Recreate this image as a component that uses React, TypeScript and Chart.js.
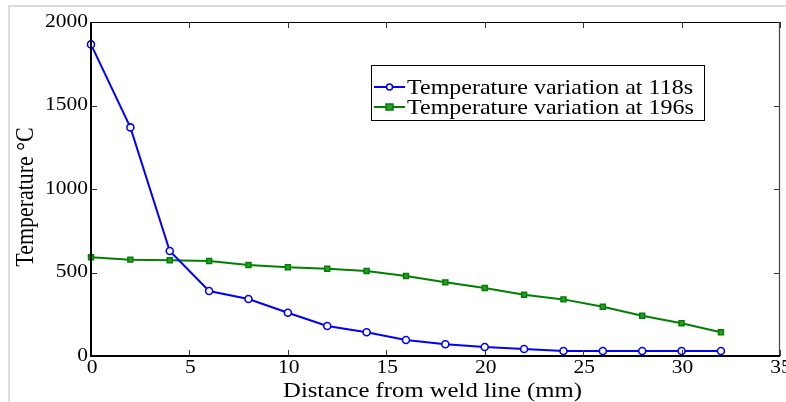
import React, { useEffect, useRef } from 'react';
import { Chart, registerables } from 'chart.js';

Chart.register(...registerables);

const distances = [0, 2, 4, 6, 8, 10, 12, 14, 16, 18, 20, 22, 24, 26, 28, 30, 32];
const temp118 = [1866, 1369, 629, 389, 341, 259, 180, 142, 96, 70, 54, 42, 30, 30, 30, 30, 30];
const temp196 = [591, 577, 573, 569, 545, 531, 523, 509, 479, 441, 407, 367, 339, 295, 241, 196, 142];
const xTicks = [0, 5, 10, 15, 20, 25, 30, 35];
const yTicks = [0, 500, 1000, 1500, 2000];
const seriesLabels = ['Temperature variation at 118s', 'Temperature variation at 196s'];
const xTitle = 'Distance from weld line (mm)';
const yTitle = 'Temperature \u00B0C';

const SERIF = '"Liberation Serif", "Times New Roman", serif';

// text drawn slightly squashed vertically, like the reference raster
function drawText(
  ctx: CanvasRenderingContext2D,
  text: string,
  x: number,
  y: number,
  size: number,
  sy: number,
  align: CanvasTextAlign,
  rotate = 0
) {
  ctx.save();
  ctx.translate(x, y);
  ctx.scale(1, sy);
  if (rotate) ctx.rotate(rotate);
  ctx.font = `${size}px ${SERIF}`;
  ctx.fillStyle = '#000';
  ctx.textAlign = align;
  ctx.textBaseline = 'middle';
  ctx.fillText(text, 0, 0);
  ctx.restore();
}

const framePlugin = {
  id: 'matlabFrame',
  afterDraw(chart: any) {
    const { ctx, chartArea: a, scales } = chart;
    const x = scales.x;
    const y = scales.y;
    ctx.save();
    const line = (x1: number, y1: number, x2: number, y2: number) => {
      ctx.beginPath();
      ctx.moveTo(x1, y1);
      ctx.lineTo(x2, y2);
      ctx.stroke();
    };
    // inward ticks on all four sides
    ctx.strokeStyle = '#333';
    ctx.lineWidth = 1;
    const tl = 6;
    xTicks.forEach((v) => {
      const px = Math.round(x.getPixelForValue(v)) + 0.5;
      line(px, a.bottom, px, a.bottom - tl);
      line(px, a.top, px, a.top + tl);
    });
    yTicks.forEach((v) => {
      const py = Math.round(y.getPixelForValue(v)) + 0.5;
      line(a.left, py, a.left + tl, py);
      line(a.right, py, a.right - tl, py);
    });
    // frame
    ctx.strokeStyle = '#000';
    ctx.lineWidth = 1.2;
    line(a.left, a.top + 0.5, a.right, a.top + 0.5);
    ctx.strokeStyle = '#444';
    line(a.right - 0.5, a.top, a.right - 0.5, a.bottom);
    ctx.strokeStyle = '#000';
    ctx.lineWidth = 2;
    line(a.left, a.top, a.left, a.bottom + 1);
    line(a.left - 1, a.bottom, a.right, a.bottom);

    // tick labels
    const sy = 0.85;
    yTicks.forEach((v) => {
      drawText(ctx, String(v), a.left - 3, y.getPixelForValue(v), 21.5, sy, 'right');
    });
    xTicks.forEach((v) => {
      drawText(ctx, String(v), x.getPixelForValue(v) + 1, a.bottom + 12.5, 21.5, sy, 'center');
    });
    // axis titles
    drawText(ctx, xTitle, (a.left + a.right) / 2 - 3, a.bottom + 35.5, 24.7, 0.82, 'center');
    drawText(ctx, yTitle, 26.5, (a.top + a.bottom) / 2 + 8, 25.8, sy, 'center', -Math.PI / 2);

    // legend box
    const bx = 371.5, by = 65.5, bw = 333, bh = 55;
    ctx.fillStyle = '#fff';
    ctx.fillRect(bx, by, bw, bh);
    ctx.strokeStyle = '#000';
    ctx.lineWidth = 1;
    ctx.strokeRect(bx, by, bw, bh);
    const rows = [87, 107];
    chart.data.datasets.forEach((ds: any, i: number) => {
      const ry = rows[i];
      ctx.strokeStyle = ds.borderColor;
      ctx.lineWidth = 2;
      line(374, ry, 405, ry);
      ctx.lineWidth = 1.5;
      if (ds.pointStyle === 'circle') {
        ctx.fillStyle = ds.pointBackgroundColor;
        ctx.beginPath();
        ctx.arc(389.5, ry, 3, 0, Math.PI * 2);
        ctx.fill();
        ctx.stroke();
      } else {
        ctx.fillStyle = ds.pointBackgroundColor;
        ctx.fillRect(386, ry - 3, 7, 6);
        ctx.strokeRect(386, ry - 3, 7, 6);
      }
      drawText(ctx, ds.label, 407, ry + 1, 24, 0.9, 'left');
    });
    ctx.restore();
  },
};

export default function App() {
  const ref = useRef<HTMLCanvasElement | null>(null);

  useEffect(() => {
    if (!ref.current) return;
    const chart = new Chart(ref.current, {
      type: 'line',
      data: {
        datasets: [
          {
            label: seriesLabels[0],
            data: distances.map((d, i) => ({ x: d, y: temp118[i] })),
            borderColor: '#0000ff',
            backgroundColor: '#0000ff',
            pointBackgroundColor: '#ffffff',
            pointBorderColor: '#0000ff',
            pointStyle: 'circle',
            pointRadius: 3.5,
            pointBorderWidth: 1.6,
            borderWidth: 2,
            tension: 0,
            clip: false as any,
          },
          {
            label: seriesLabels[1],
            data: distances.map((d, i) => ({ x: d, y: temp196[i] })),
            borderColor: '#008000',
            backgroundColor: '#008000',
            pointBackgroundColor: '#2e9a2e',
            pointBorderColor: '#008000',
            pointStyle: 'rect',
            pointRadius: 3.5,
            pointBorderWidth: 1.5,
            borderWidth: 2,
            tension: 0,
            clip: false as any,
          },
        ],
      },
      options: {
        animation: false,
        responsive: true,
        maintainAspectRatio: false,
        layout: { padding: { left: 0, top: 22, right: 6, bottom: 0 } },
        plugins: {
          legend: { display: false },
          tooltip: { enabled: false },
        },
        scales: {
          x: {
            type: 'linear',
            min: 0,
            max: 35,
            afterBuildTicks: (s: any) => {
              s.ticks = xTicks.map((v) => ({ value: v }));
            },
            afterFit: (s: any) => {
              s.height = 46;
            },
            grid: { display: false, drawTicks: false },
            border: { display: false },
            ticks: { display: false },
            title: { display: false, text: xTitle },
          },
          y: {
            type: 'linear',
            min: 0,
            max: 2000,
            afterBuildTicks: (s: any) => {
              s.ticks = yTicks.map((v) => ({ value: v }));
            },
            afterFit: (s: any) => {
              s.width = 91;
            },
            grid: { display: false, drawTicks: false },
            border: { display: false },
            ticks: { display: false },
            title: { display: false, text: yTitle },
          },
        },
      },
      plugins: [framePlugin],
    });
    return () => chart.destroy();
  }, []);

  return (
    <div style={{ position: 'absolute', left: 0, top: 0, width: 786, height: 402, background: '#fff' }}>
      <div
        style={{
          position: 'absolute',
          left: 8,
          top: 5,
          width: 778,
          height: 397,
          borderTop: '2px solid #dcdcdc',
          borderLeft: '2px solid #dcdcdc',
          boxSizing: 'border-box',
        }}
      />
      <canvas ref={ref} style={{ position: 'absolute', left: 0, top: 0 }} />
    </div>
  );
}
